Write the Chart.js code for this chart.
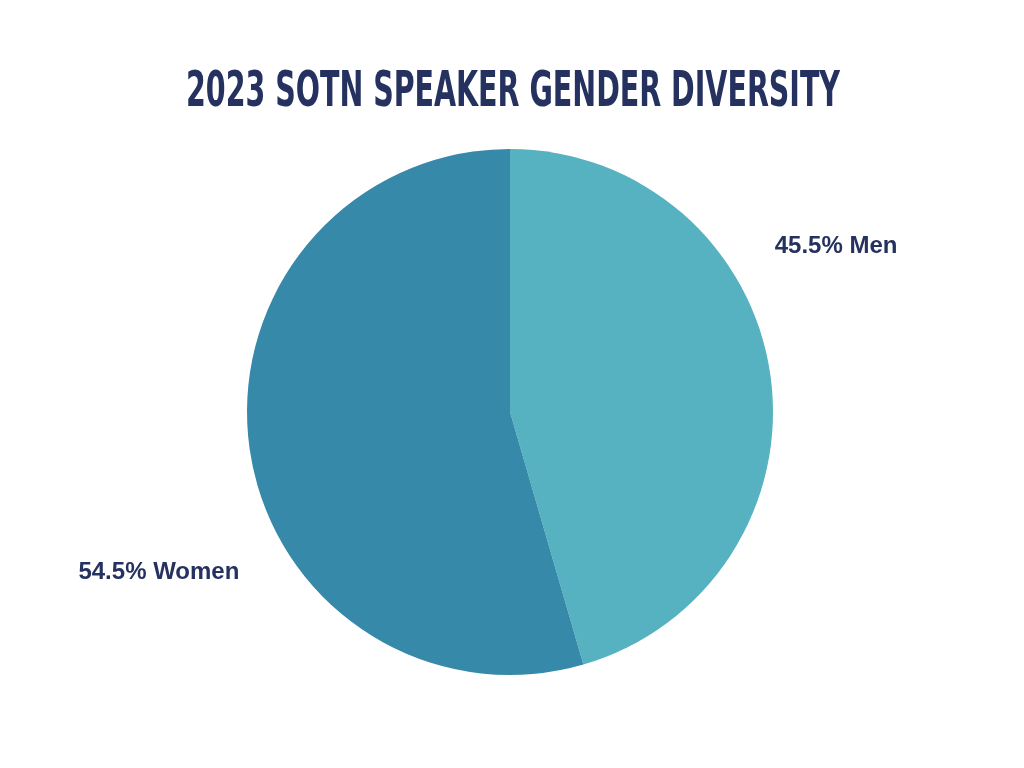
<!DOCTYPE html>
<html>
<head>
<meta charset="utf-8">
<script src="https://cdn.jsdelivr.net/npm/chart.js@4/dist/chart.umd.min.js"></script>
<style>
  html, body { margin: 0; padding: 0; background: #ffffff; }
  #wrap { width: 1024px; height: 768px; }
</style>
</head>
<body>
<div id="wrap"><canvas id="pie" width="1024" height="768"></canvas></div>
<script>
// chart data
const chartTitle = '2023 SOTN SPEAKER GENDER DIVERSITY';
const categories = ['Men', 'Women'];
const shares = [45.5, 54.5];
const sliceColors = ['#56b1c1', '#3689a8'];

const navy = '#25325f';

// title drawn condensed (no Oswald available), squeezed to the reference width
const condensedTitle = {
    id: 'condensedTitle',
    afterDraw(chart) {
        const ctx = chart.ctx;
        ctx.save();
        ctx.font = 'bold 50px "Liberation Sans Narrow", "DejaVu Sans Condensed", "Liberation Sans", sans-serif';
        ctx.fillStyle = navy;
        ctx.textAlign = 'center';
        ctx.textBaseline = 'alphabetic';
        const w = ctx.measureText(chartTitle).width;
        const sx = 654 / w;
        ctx.translate(513, 106);
        ctx.scale(sx, 1);
        ctx.fillText(chartTitle, 0, 0);
        ctx.restore();
    }
};

// slice labels, placed relative to the pie centre and radius
const sliceLabels = {
    id: 'sliceLabels',
    afterDatasetsDraw(chart) {
        const arc = chart.getDatasetMeta(0).data[0];
        const cx = arc.x, cy = arc.y, r = arc.outerRadius;
        const spots = [[1.24, -0.628], [-1.335, 0.608]];
        const ctx = chart.ctx;
        ctx.save();
        ctx.font = 'bold 24px "Liberation Sans", Arial, sans-serif';
        ctx.fillStyle = navy;
        ctx.textAlign = 'center';
        ctx.textBaseline = 'middle';
        categories.forEach((c, i) => {
            const txt = shares[i].toFixed(1) + '% ' + c;
            ctx.fillText(txt, cx + spots[i][0] * r, cy + spots[i][1] * r);
        });
        ctx.restore();
    }
};

new Chart(document.getElementById('pie'), {
    type: 'pie',
    data: {
        labels: categories,
        datasets: [{
            data: shares,
            backgroundColor: sliceColors,
            borderWidth: 0
        }]
    },
    options: {
        responsive: false,
        animation: false,
        layout: {
            padding: { top: 149, bottom: 93, left: 247, right: 251 }
        },
        plugins: {
            legend: { display: false },
            tooltip: { enabled: false },
            title: { display: false }
        }
    },
    plugins: [condensedTitle, sliceLabels]
});
</script>
</body>
</html>
